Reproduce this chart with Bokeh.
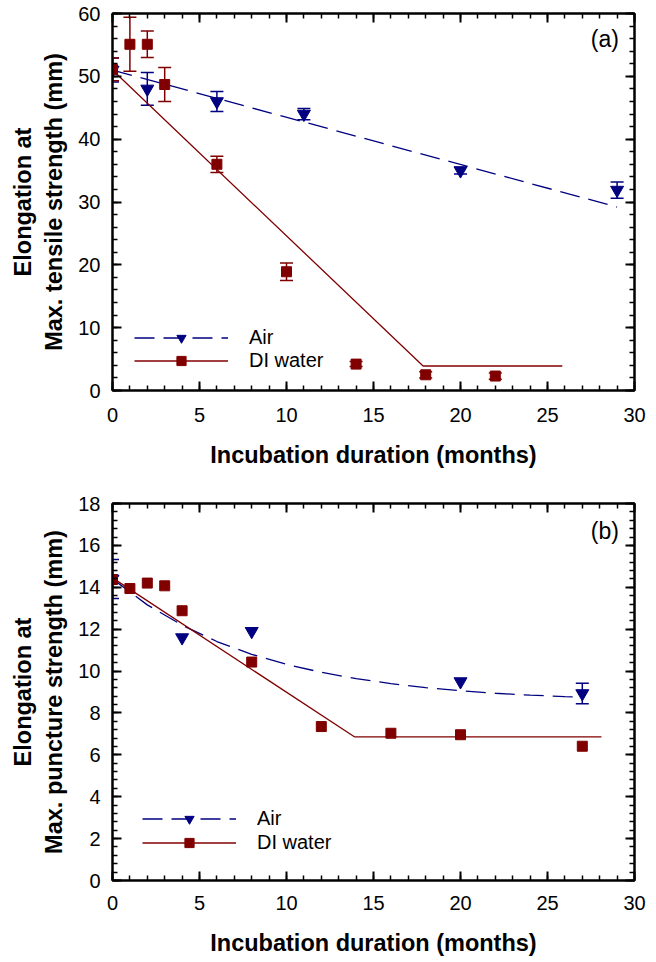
from bokeh.plotting import figure
from bokeh.models import (Range1d, LinearAxis, SingleIntervalTicker, Whisker, TeeHead,
                          ColumnDataSource, Legend, LegendItem, Label, CustomLabelingPolicy)
from bokeh.layouts import column
from bokeh.embed import file_html
from bokeh.resources import INLINE

FONT = "Liberation Sans"
NAVY = "#000080"
MAROON = "#800000"

x_title = "Incubation duration (months)"

# ---------------- panel (a): tensile ----------------
a_air_x = [0, 2, 6, 11, 20, 29]
a_air_y = [51.0, 48.0, 46.0, 44.0, 35.0, 31.9]
a_air_err = [1.9, 2.6, 1.6, 0.9, 0.55, 1.3]
a_di_x = [0, 1, 2, 3, 6, 10, 14, 18, 22]
a_di_y = [51.1, 55.1, 55.1, 48.7, 36.0, 18.9, 4.2, 2.5, 2.3]
a_di_err = [1.8, 4.3, 2.1, 2.7, 1.3, 1.4, 0.4, 0.5, 0.5]
a_air_fit_x = [0, 29]
a_air_fit_y = [51.0, 29.2]
a_di_fit_x = [0, 17.85, 25.85]
a_di_fit_y = [51.0, 3.9, 3.9]

# ---------------- panel (b): puncture ----------------
b_air_x = [0, 4, 8, 20, 27]
b_air_y = [14.4, 11.6, 11.9, 9.5, 8.93]
b_air_err = [0.93, 0, 0, 0, 0.49]
b_di_x = [0, 1, 2, 3, 4, 8, 12, 16, 20, 27]
b_di_y = [14.37, 13.94, 14.2, 14.07, 12.88, 10.43, 7.35, 7.03, 6.96, 6.41]
b_di_err = [0, 0, 0, 0, 0, 0, 0, 0, 0, 0]
b_air_fit_x = [0, 2, 4, 6, 8, 10, 12, 14, 16, 18, 20, 22, 24, 26, 27]
b_air_fit_y = [14.40, 13.16, 12.19, 11.41, 10.80, 10.32, 9.94, 9.64, 9.40, 9.21,
               9.06, 8.94, 8.85, 8.78, 8.75]
b_di_fit_x = [0, 13.9, 28.1]
b_di_fit_y = [14.45, 6.86, 6.86]

NO_LABELS = "for (let i = 0; i < indices.size; i++) { indices.unset(i) }\nreturn indices"


def style_axis(ax, show_labels, label_standoff=12, title_standoff=14):
    ax.axis_line_color = "black"
    ax.axis_line_width = 2
    ax.major_tick_in = 9
    ax.major_tick_out = 0
    ax.minor_tick_in = 5
    ax.minor_tick_out = 0
    ax.major_tick_line_width = 2
    ax.minor_tick_line_width = 1.5
    ax.major_tick_line_color = "black"
    ax.minor_tick_line_color = "black"
    if show_labels:
        ax.major_label_text_font = FONT
        ax.major_label_text_font_size = "20px"
        ax.major_label_text_color = "black"
        ax.major_label_standoff = label_standoff
        ax.axis_label_text_font = FONT
        ax.axis_label_text_font_size = "23.5px"
        ax.axis_label_text_font_style = "bold"
        ax.axis_label_text_color = "black"
        ax.axis_label_standoff = title_standoff
    else:
        ax.major_label_policy = CustomLabelingPolicy(code=NO_LABELS)
        ax.major_label_text_font_size = "0px"
        ax.major_label_standoff = 0
        ax.axis_label = None


def errbars(p, xs, ys, errs, color):
    sel = [i for i, e in enumerate(errs) if e > 0]
    if not sel:
        return
    src = ColumnDataSource(dict(
        x=[xs[i] for i in sel],
        upper=[ys[i] + errs[i] for i in sel],
        lower=[ys[i] - errs[i] for i in sel]))
    w = Whisker(source=src, base="x", upper="upper", lower="lower", dimension="height",
                line_color=color, line_width=1.5,
                upper_head=TeeHead(size=13, line_color=color, line_width=1.5),
                lower_head=TeeHead(size=13, line_color=color, line_width=1.5))
    p.add_layout(w)


def panel(border_top, border_bottom, ymax, ymajor, ylabel, tag, tag_y,
          air_x, air_y, air_err, di_x, di_y, di_err,
          air_fx, air_fy, di_fx, di_fy, leg_loc, leg_spacing,
          x_label_standoff, x_title_standoff):
    p = figure(width=656, height=481, x_range=Range1d(0, 30), y_range=Range1d(0, ymax),
               output_backend="svg", toolbar_location=None,
               min_border_left=112, min_border_right=22,
               min_border_top=border_top, min_border_bottom=border_bottom,
               x_axis_label=x_title, y_axis_label=ylabel)
    p.grid.visible = False
    p.outline_line_color = "black"
    p.outline_line_width = 2
    p.background_fill_color = "white"
    p.border_fill_color = "white"

    p.xaxis[0].ticker = SingleIntervalTicker(interval=5, num_minor_ticks=5)
    p.yaxis[0].ticker = SingleIntervalTicker(interval=ymajor, num_minor_ticks=5)
    top = LinearAxis(ticker=SingleIntervalTicker(interval=5, num_minor_ticks=5))
    right = LinearAxis(ticker=SingleIntervalTicker(interval=ymajor, num_minor_ticks=5))
    p.add_layout(top, "above")
    p.add_layout(right, "right")
    style_axis(p.below[0], True, label_standoff=x_label_standoff, title_standoff=x_title_standoff)
    style_axis(p.left[0], True, label_standoff=12, title_standoff=8)
    style_axis(top, False)
    style_axis(right, False)

    air_line = p.line(air_fx, air_fy, line_color=NAVY, line_width=1.3, line_dash="20 9")
    di_line = p.line(di_fx, di_fy, line_color=MAROON, line_width=1.3)

    errbars(p, air_x, air_y, air_err, NAVY)
    errbars(p, di_x, di_y, di_err, MAROON)

    air_pts = p.scatter(air_x, air_y, marker="inverted_triangle", size=13,
                        fill_color=NAVY, line_color=NAVY)
    di_pts = p.scatter(di_x, di_y, marker="square", size=10,
                       fill_color=MAROON, line_color=MAROON)

    leg = Legend(items=[LegendItem(label="Air", renderers=[air_line, air_pts]),
                        LegendItem(label="DI water", renderers=[di_line, di_pts])],
                 location=leg_loc)
    leg.border_line_color = None
    leg.background_fill_alpha = 0
    leg.padding = 0
    leg.margin = 0
    leg.spacing = leg_spacing
    leg.glyph_width = 94
    leg.glyph_height = 23
    leg.label_height = 23
    leg.label_standoff = 21
    leg.label_text_font = FONT
    leg.label_text_font_size = "20px"
    leg.label_text_color = "black"
    p.add_layout(leg)

    p.add_layout(Label(x=29.1, y=tag_y, text=tag, text_align="right", text_baseline="middle",
                       text_font=FONT, text_font_size="23px", text_color="black"))
    return p


p1 = panel(13, 91, 60, 10, "Elongation at\nMax. tensile strength (mm)", "(a)", 56.0,
           a_air_x, a_air_y, a_air_err, a_di_x, a_di_y, a_di_err,
           a_air_fit_x, a_air_fit_y, a_di_fit_x, a_di_fit_y, (22, 18), 0, 17, 17)
p2 = panel(22, 82, 18, 2, "Elongation at\nMax. puncture strength (mm)", "(b)", 16.67,
           b_air_x, b_air_y, b_air_err, b_di_x, b_di_y, b_di_err,
           b_air_fit_x, b_air_fit_y, b_di_fit_x, b_di_fit_y, (30, 26), 1, 15, 17)

layout = column(p1, p2, spacing=0)
open("out.html", "w").write(file_html(layout, INLINE))
